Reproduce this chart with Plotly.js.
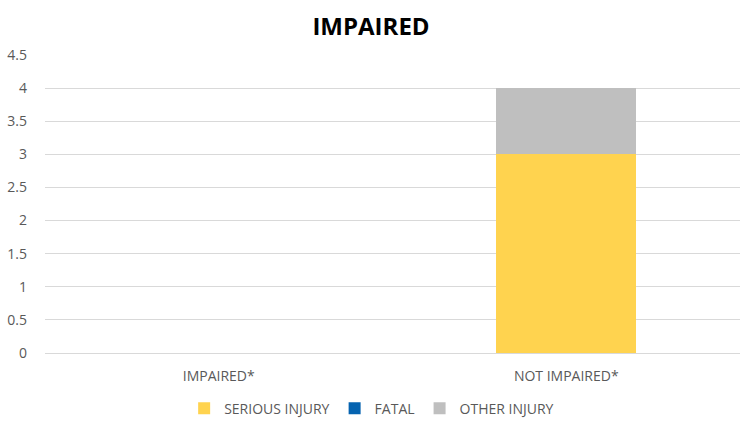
<!DOCTYPE html>
<html>
<head>
<meta charset="utf-8">
<script src="https://cdn.plot.ly/plotly-3.0.1.min.js"></script>
<style>html,body{margin:0;padding:0;background:#fff;}#chart{width:742px;height:436px;}</style>
</head>
<body>
<div id="chart"></div>
<script>
const categories = ["IMPAIRED*", "NOT IMPAIRED*"];
const seriousInjury = [0, 3];
const fatal = [0, 0];
const otherInjury = [0, 1];
const seriesNames = ["SERIOUS INJURY", "FATAL", "OTHER INJURY"];
const seriesColors = ["#FFD34F", "#0563B0", "#BFBFBF"];
const yTicks = [0, 0.5, 1, 1.5, 2, 2.5, 3, 3.5, 4, 4.5];

const font = "'Open Sans', sans-serif";
const seriesValues = [seriousInjury, fatal, otherInjury];
const traces = seriesValues.map((vals, i) => ({
  type: "bar",
  x: categories,
  y: vals,
  name: seriesNames[i],
  marker: {color: seriesColors[i], line: {width: 0}},
  hoverinfo: "skip"
}));

const layout = {
  width: 742,
  height: 436,
  margin: {l: 45, r: 2, t: 55, b: 83},
  paper_bgcolor: "#fff",
  plot_bgcolor: "#fff",
  barmode: "stack",
  bargap: 0.597,
  title: {text: "<b>IMPAIRED</b>", x: 0.5, xanchor: "center", y: 0.94, yanchor: "middle",
          font: {family: font, size: 24, color: "#000"}},
  font: {family: font, size: 14, color: "#595959"},
  xaxis: {
    type: "category",
    showgrid: false,
    showline: true,
    linecolor: "#D9D9D9",
    linewidth: 1,
    ticks: "",
    tickfont: {family: font, size: 14, color: "#595959"},
    ticklabelstandoff: 10,
    zeroline: false
  },
  yaxis: {
    range: [0, 4.5],
    tickvals: yTicks,
    ticktext: yTicks.map(v => String(v)),
    showgrid: true,
    gridcolor: "#D9D9D9",
    gridwidth: 1,
    zeroline: false,
    showline: false,
    ticks: "",
    ticklabelstandoff: 17,
    tickfont: {family: font, size: 14, color: "#595959"}
  },
  showlegend: true,
  legend: {
    orientation: "h",
    x: 0.47, xanchor: "center",
    y: -0.187, yanchor: "middle",
    traceorder: "normal",
    font: {family: font, size: 14, color: "#595959"},
    itemclick: false
  }
};

Plotly.newPlot("chart", traces, layout, {displayModeBar: false, staticPlot: true});
</script>
</body>
</html>
